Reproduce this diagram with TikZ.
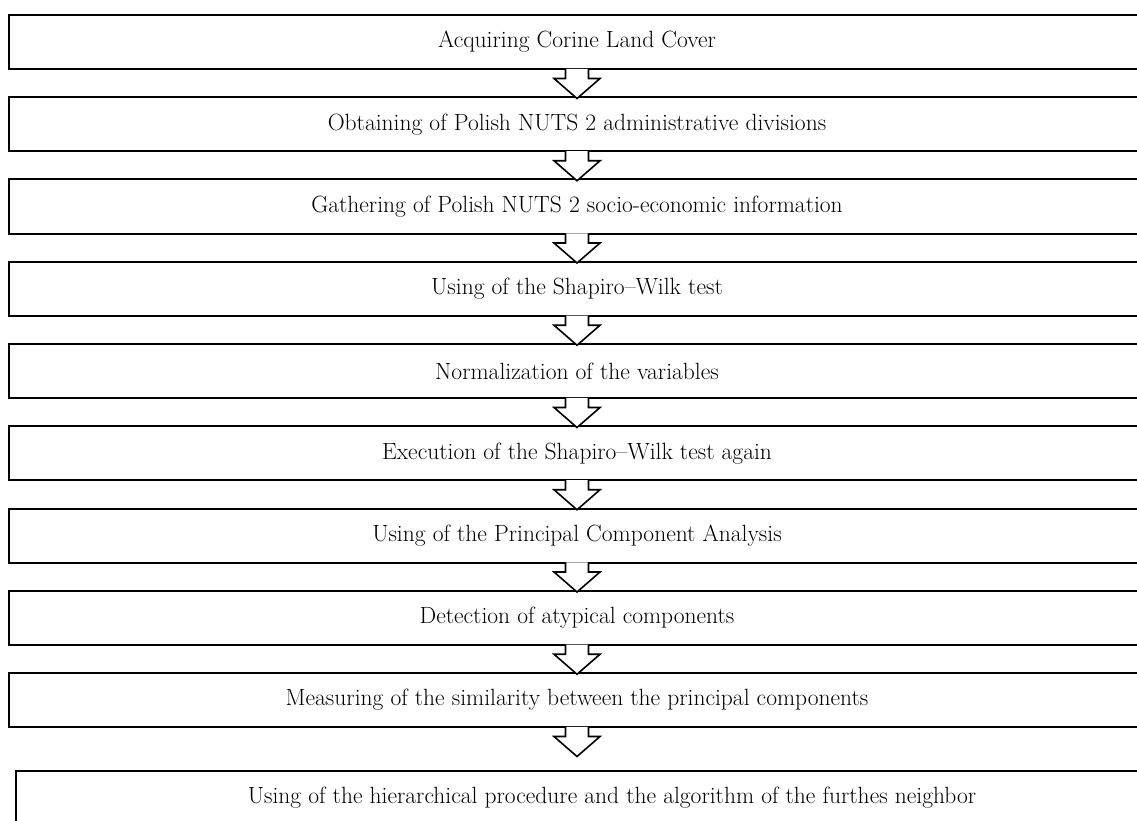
\documentclass[tikz,border=0pt]{standalone}
\usetikzlibrary{positioning}
\tikzset{
  stepbox/.style={draw, line width=2pt, minimum width=1136pt, minimum height=54pt,
    inner sep=0pt, font=\fontsize{23.5}{26}\selectfont},
  blockarrow/.style={draw, fill=white, line width=1.6pt, line join=miter},
}
\begin{document}
\begin{tikzpicture}[x=1pt, y=-1pt, line cap=butt]
	\useasboundingbox (0,0) rectangle (1137,821);
	\clip (0,0) rectangle (1137,821);
	\node[stepbox] (b1) at (577,42) {Acquiring Corine Land Cover};
	\node[stepbox, below=26.25pt of b1] (b2) {Obtaining of Polish NUTS 2 administrative divisions};
	\node[stepbox, below=26.25pt of b2] (b3) {Gathering of Polish NUTS 2 socio-economic information};
	\node[stepbox, below=26.25pt of b3] (b4) {Using of the Shapiro--Wilk test};
	\node[stepbox, below=26.25pt of b4] (b5) {Normalization of the variables};
	\node[stepbox, below=26.25pt of b5] (b6) {Execution of the Shapiro--Wilk test again};
	\node[stepbox, below=26.25pt of b6] (b7) {Using of the Principal Component Analysis};
	\node[stepbox, below=26.25pt of b7] (b8) {Detection of atypical components};
	\node[stepbox, below=26.25pt of b8] (b9) {Measuring of the similarity between the principal components};
	\node[stepbox, minimum width=1192pt, anchor=north west] (b10) at ([shift={(7,42)}]b9.south west)
		{Using of the hierarchical procedure and the algorithm of the furthes neighbor};
	% block arrows between the steps
	\foreach \a in {1,...,9}
		\draw[blockarrow] ([shift={(-11.5,-1.2)}]b\a.south) -- ++(0,9.7) -- ++(-11.5,0)
			-- ++(23,20) -- ++(23,-20) -- ++(-11.5,0) -- ++(0,-9.7);
\end{tikzpicture}
\end{document}
